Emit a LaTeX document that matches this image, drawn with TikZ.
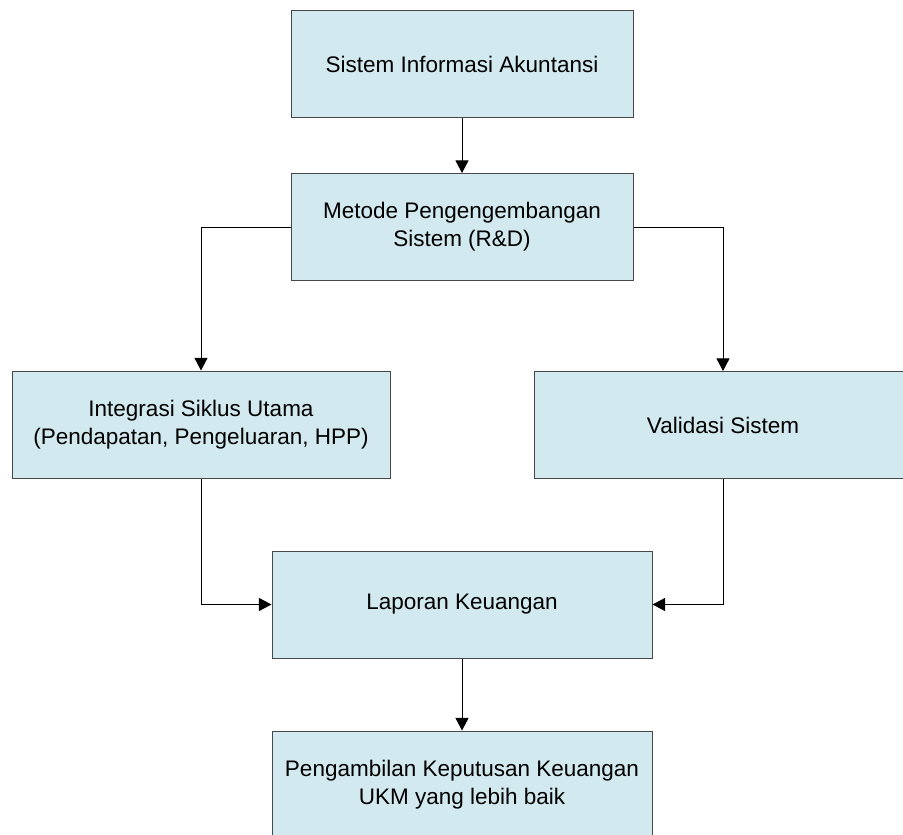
\documentclass[tikz,border=0pt]{standalone}
\usepackage{fontspec}
\setmainfont{Liberation Sans}
\usetikzlibrary{arrows.meta,calc}
\definecolor{boxfill}{RGB}{210,233,239}
\definecolor{boxline}{RGB}{70,72,74}
\tikzset{>={Triangle[length=6.3pt,width=6.5pt]}}
\tikzstyle{stage}=[rectangle,draw=boxline,fill=boxfill,line width=0.5pt,align=center,minimum height=53.5pt,font=\fontsize{11.25}{14}\selectfont]
\tikzstyle{link}=[->,line width=0.5pt,black]

\begin{document}
\begin{tikzpicture}[x=0.5pt,y=-0.5pt,inner sep=0pt]
    \useasboundingbox (0,0) rectangle (903,834);
    \clip (0,0) rectangle (903,834);

    \node[stage,minimum width=171pt] (sia) at (462,64.5) {Sistem Informasi Akuntansi};
    \node[stage,minimum width=171pt] (metode) at (462,227) {Metode Pengengembangan\\Sistem (R\&D)};
    \node[stage,minimum width=189pt] (integrasi) at (201,424.5) {Integrasi Siklus Utama\\(Pendapatan, Pengeluaran, HPP)};
    \node[stage,minimum width=189pt] (validasi) at (723,425) {Validasi Sistem};
    \node[stage,minimum width=190pt] (laporan) at (462,604.5) {Laporan Keuangan};
    \node[stage,minimum width=190pt] (keputusan) at (462,784.5) {Pengambilan Keputusan Keuangan\\UKM yang lebih baik};

    % arus utama
    \draw[link] (sia) -- (metode);
    \draw[link] (metode.west) -| (integrasi.north);
    \draw[link] (metode.east) -| (validasi.north);
    \draw[link] (integrasi.south) |- (laporan.west);
    \draw[link] (validasi.south) |- (laporan.east);
    \draw[link] (laporan) -- (keputusan);
\end{tikzpicture}
\end{document}
